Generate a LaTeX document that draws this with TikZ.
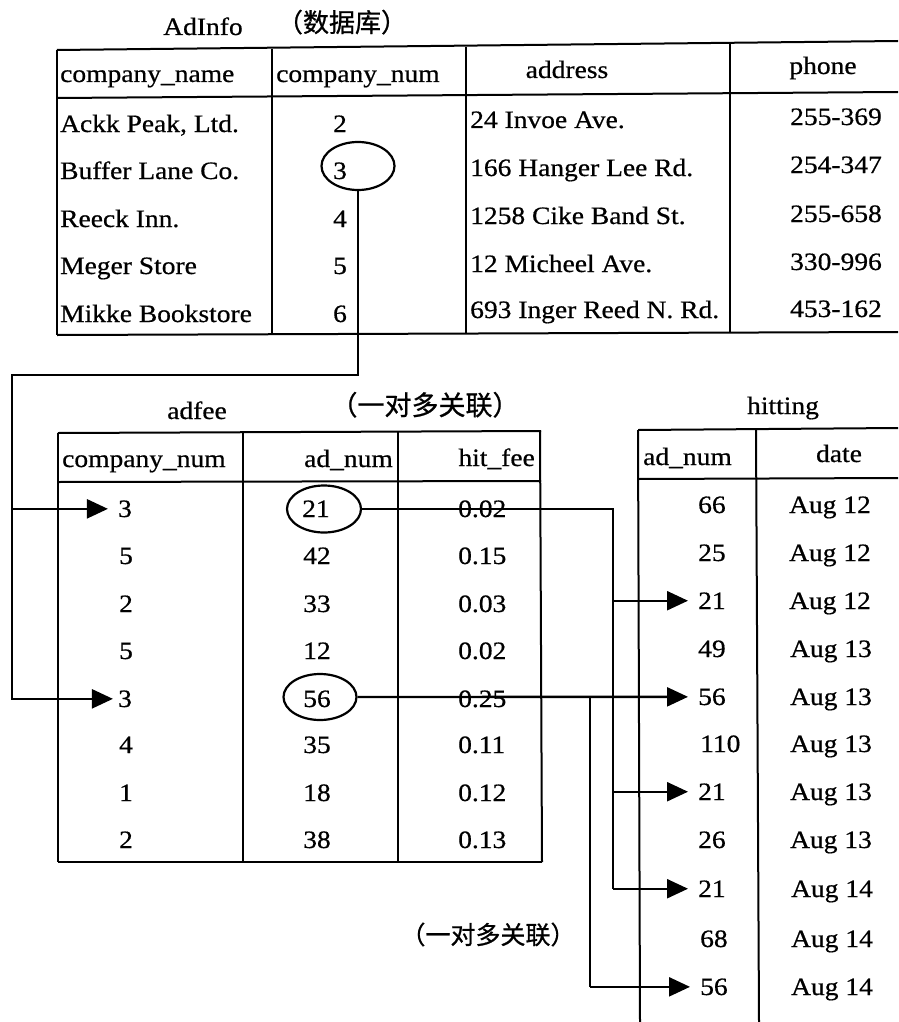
\documentclass[tikz,border=0pt]{standalone}
\usepackage{fontspec}
\setmainfont[FakeStretch=1.1,FakeBold=0.6]{Liberation Serif}
\newfontfamily\cjk[FakeBold=0.8]{Noto Sans CJK SC}
\usetikzlibrary{arrows.meta,shapes.geometric}
\begin{document}
\begin{tikzpicture}[x=1pt,y=-1pt,
  txt/.style={font=\fontsize{25}{25}\selectfont, inner sep=0pt, anchor=base},
  txtw/.style={txt, anchor=base west},
  txte/.style={txt, anchor=base east},
  cjklab/.style={font=\cjk\fontsize{25}{25}\selectfont, inner sep=0pt, anchor=base},
  grid/.style={line width=2pt},
  conn/.style={line width=2.4pt},
  arr/.style={conn, -{Triangle[length=21pt,width=19pt]}},
  ring/.style={draw, ellipse, line width=2.2pt, inner sep=0pt},
]
\useasboundingbox (0,0) rectangle (898,1022);

% ---------- AdInfo table ----------
\node[txt] (tAd) at (203,35) {AdInfo};
\node[cjklab, font=\cjk\fontsize{26}{26}\selectfont] (tDb) at (342,32) {（数据库）};
\draw[grid] (57,50) -- (898,41);
\draw[grid] (57,98) -- (898,92);
\draw[grid] (57,335) -- (898,332);
\draw[grid] (57,50) -- (57,335);
\draw[grid] (272,49) -- (272,334);
\draw[grid] (466,47) -- (466,334);
\draw[grid] (730,44) -- (730,333);

\node[txtw] (a-h1) at (60,82) {company\_name};
\node[txtw] (a-h2) at (276,82) {company\_num};
\node[txt]  (a-h3) at (567,78) {address};
\node[txt]  (a-h4) at (823,74) {phone};

\node[txtw] (a-n1) at (60,132) {Ackk Peak, Ltd.};
\node[txtw] (a-n2) at (60,179) {Buffer Lane Co.};
\node[txtw] (a-n3) at (60,227) {Reeck Inn.};
\node[txtw] (a-n4) at (60,274) {Meger Store};
\node[txtw] (a-n5) at (60,322) {Mikke Bookstore};

\node[txt] (a-c1) at (340,132) {2};
\node[txt] (a-c2) at (340,179) {3};
\node[txt] (a-c3) at (340,227) {4};
\node[txt] (a-c4) at (340,274) {5};
\node[txt] (a-c5) at (340,322) {6};

\node[txtw] (a-a1) at (470,128) {24 Invoe Ave.};
\node[txtw] (a-a2) at (470,176) {166 Hanger Lee Rd.};
\node[txtw] (a-a3) at (470,224) {1258 Cike Band St.};
\node[txtw] (a-a4) at (470,272) {12 Micheel Ave.};
\node[txtw] (a-a5) at (470,318) {693 Inger Reed N. Rd.};

\node[txt] (a-p1) at (836,125) {255-369};
\node[txt] (a-p2) at (836,173) {254-347};
\node[txt] (a-p3) at (836,222) {255-658};
\node[txt] (a-p4) at (836,270) {330-996};
\node[txt] (a-p5) at (836,317) {453-162};

\node[ring, minimum width=73pt, minimum height=48pt] (e3) at (358,166) {};

% ---------- adfee table ----------
\node[txt] (tFee) at (197,419) {adfee};
\node[cjklab, font=\cjk\fontsize{27}{27}\selectfont] (tRel1) at (425,415) {（一对多关联）};
\draw[grid] (58,433) -- (541,431);
\draw[grid] (58,482) -- (541,481);
\draw[grid] (58,862) -- (542,862);
\draw[grid] (58,433) -- (58,862);
\draw[grid] (243,433) -- (243,862);
\draw[grid] (398,432) -- (398,862);
\draw[grid] (540,431) -- (542,862);

\node[txtw] (m-h1) at (62,467) {company\_num};
\node[txte] (m-h2) at (393,467) {ad\_num};
\node[txte] (m-h3) at (535,466) {hit\_fee};

\node[txt, inner xsep=10pt] (m3a) at (125,517) {3};
\node[txt] (m-c2) at (126,564) {5};
\node[txt] (m-c3) at (126,612) {2};
\node[txt] (m-c4) at (126,659) {5};
\node[txt, inner xsep=5pt] (m3b) at (125,707) {3};
\node[txt] (m-c6) at (126,753) {4};
\node[txt] (m-c7) at (126,801) {1};
\node[txt] (m-c8) at (126,848) {2};

\node[txt] (m-d1) at (316,517) {21};
\node[txt] (m-d2) at (317,564) {42};
\node[txt] (m-d3) at (317,612) {33};
\node[txt] (m-d4) at (317,659) {12};
\node[txt] (m-d5) at (317,707) {56};
\node[txt] (m-d6) at (317,753) {35};
\node[txt] (m-d7) at (317,801) {18};
\node[txt] (m-d8) at (317,848) {38};

\node[txtw] (m-f1) at (458,517) {0.02};
\node[txtw] (m-f2) at (458,564) {0.15};
\node[txtw] (m-f3) at (458,612) {0.03};
\node[txtw] (m-f4) at (458,659) {0.02};
\node[txtw] (m-f5) at (458,707) {0.25};
\node[txtw] (m-f6) at (458,753) {0.11};
\node[txtw] (m-f7) at (458,801) {0.12};
\node[txtw] (m-f8) at (458,848) {0.13};

\node[ring, minimum width=74pt, minimum height=47pt] (e21) at (324,509) {};
\node[ring, minimum width=73pt, minimum height=46pt] (e56) at (320,697) {};

\node[cjklab] (tRel2) at (488,944) {（一对多关联）};

% ---------- hitting table ----------
\node[txt] (tHit) at (783,414) {hitting};
\draw[grid] (638,430) -- (898,428);
\draw[grid] (638,479) -- (898,478);
\draw[grid] (638,430) -- (640,1022);
\draw[grid] (756,430) -- (759,1022);

\node[txtw] (h-h1) at (643,465) {ad\_num};
\node[txt]  (h-h2) at (839,462) {date};

\node[txtw, inner xsep=10pt] (r1) at (688,513) {66};
\node[txtw, inner xsep=10pt] (r2) at (688,561) {25};
\node[txtw, inner xsep=10pt] (r3) at (688,609) {21};
\node[txtw, inner xsep=10pt] (r4) at (688,657) {49};
\node[txtw, inner xsep=10pt] (r5) at (688,705) {56};
\node[txtw, inner xsep=10pt] (r6) at (690,752) {110};
\node[txtw, inner xsep=10pt] (r7) at (688,800) {21};
\node[txtw, inner xsep=10pt] (r8) at (688,848) {26};
\node[txtw, inner xsep=10pt] (r9) at (688,897) {21};
\node[txtw, inner xsep=10pt] (r10) at (690,947) {68};
\node[txtw, inner xsep=10pt] (r11) at (690,995) {56};

\node[txt] (d1) at (830,513) {Aug 12};
\node[txt] (d2) at (830,561) {Aug 12};
\node[txt] (d3) at (830,609) {Aug 12};
\node[txt] (d4) at (831,657) {Aug 13};
\node[txt] (d5) at (831,705) {Aug 13};
\node[txt] (d6) at (831,752) {Aug 13};
\node[txt] (d7) at (831,800) {Aug 13};
\node[txt] (d8) at (831,848) {Aug 13};
\node[txt] (d9) at (832,897) {Aug 14};
\node[txt] (d10) at (832,947) {Aug 14};
\node[txt] (d11) at (832,995) {Aug 14};

% ---------- connectors ----------
\coordinate (k1) at (12,375);
\draw[arr] (e3.south) |- (k1) |- (m3b.west);
\draw[arr] (k1 |- m3a.west) -- (m3a.west);

\coordinate (k2) at (613,509);
\draw[conn] (e21.east) -- (k2 |- e21.east) -- (k2 |- r9.west);
\draw[arr] (k2 |- r3.west) -- (r3.west);
\draw[arr] (k2 |- r7.west) -- (r7.west);
\draw[arr] (k2 |- r9.west) -- (r9.west);

\coordinate (k3) at (590,697);
\draw[arr] (e56.east) -- (r5.west);
\draw[conn] (k3 |- e56.east) -- (k3 |- r11.west);
\draw[arr] (k3 |- r11.west) -- (r11.west);
\end{tikzpicture}
\end{document}
